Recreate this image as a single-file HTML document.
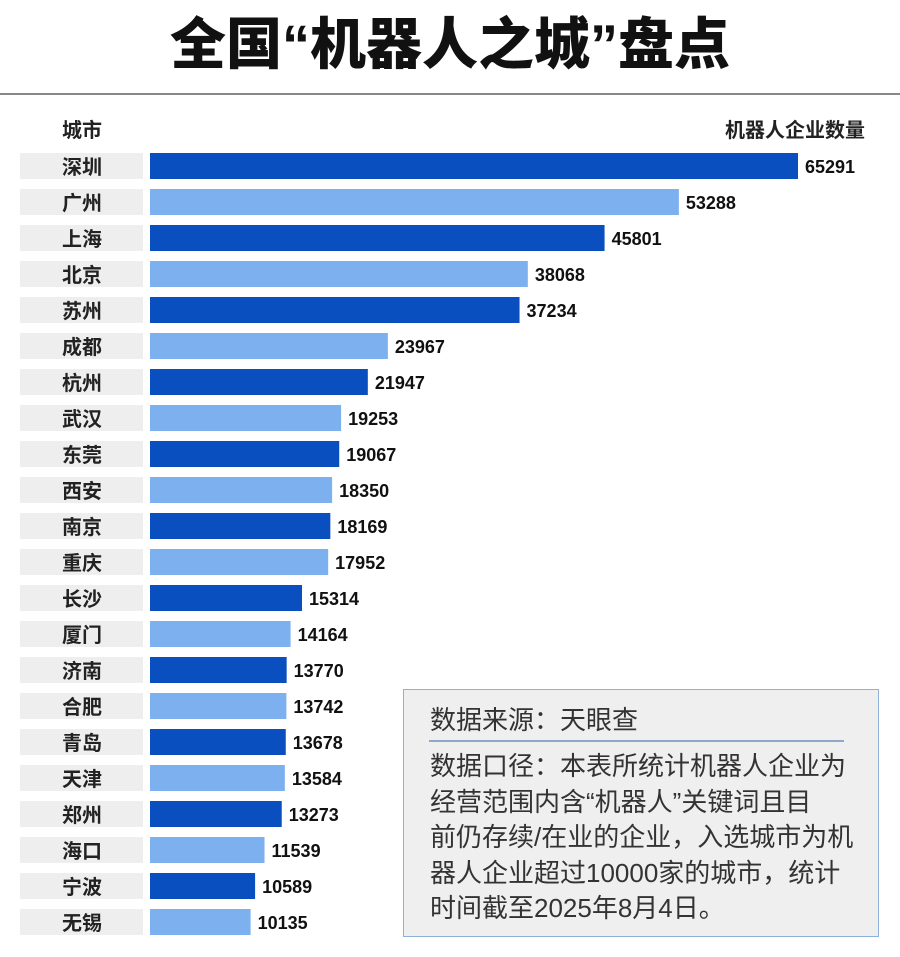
<!DOCTYPE html>
<html><head><meta charset="utf-8"><style>
body{margin:0;width:900px;height:957px;background:#fff;font-family:"Liberation Sans","Noto Sans CJK SC",sans-serif;position:relative;overflow:hidden}
#title{position:absolute;left:0;width:900px;top:12px;text-align:center;font-size:56px;font-weight:900;color:#111;line-height:66px}
#rule{position:absolute;left:0;width:900px;top:93px;height:2px;background:#888}
.hdr{position:absolute;top:114px;font-size:20px;color:#222;font-weight:bold}
#note{position:absolute;left:403px;top:689px;width:474px;height:246px;border:1.5px solid #8fb0d8;background:#efefef;color:#333}
#note .src{position:absolute;left:26px;top:14px;font-size:26px;line-height:32px;white-space:nowrap}
#note .div{position:absolute;left:25px;top:50px;width:415px;height:1.5px;background:#8fa8c8}
#note .body{position:absolute;left:26px;top:59px;font-size:26px;line-height:35.5px;white-space:nowrap}
</style></head><body>
<div id="title">全国“机器人之城”盘点</div>
<div id="rule"></div>
<div class="hdr" style="left:62px">城市</div>
<div class="hdr" style="right:35px">机器人企业数量</div>
<svg id="chart" width="900" height="957" style="position:absolute;left:0;top:0"></svg>
<div id="note">
<div class="src">数据来源：天眼查</div>
<div class="div"></div>
<div class="body">数据口径：本表所统计机器人企业为<br>经营范围内含“机器人”关键词且目<br>前仍存续/在业的企业，入选城市为机<br>器人企业超过10000家的城市，统计<br>时间截至2025年8月4日。</div>
</div>
<script>
const cities=["深圳","广州","上海","北京","苏州","成都","杭州","武汉","东莞","西安","南京","重庆","长沙","厦门","济南","合肥","青岛","天津","郑州","海口","宁波","无锡"];
const values=[65291,53288,45801,38068,37234,23967,21947,19253,19067,18350,18169,17952,15314,14164,13770,13742,13678,13584,13273,11539,10589,10135];
const svg=document.getElementById('chart');
const NS='http://www.w3.org/2000/svg';
const x0=150, pxPer=648/65291;
function xs(v){return v*pxPer;}
function ys(i){return 153+i*36;}
cities.forEach((c,i)=>{
  const y=ys(i);
  const bg=document.createElementNS(NS,'rect');
  
  
  bg.setAttribute('x',20);bg.setAttribute('y',y);bg.setAttribute('width',123);bg.setAttribute('height',26);bg.setAttribute('fill','#eeeeee');
  svg.appendChild(bg);
  const t=document.createElementNS(NS,'text');
  
  
  t.setAttribute('x',62);t.setAttribute('y',y+21);t.setAttribute('font-size','20');t.setAttribute('font-weight','bold');t.setAttribute('fill','#222');
  t.textContent=c;svg.appendChild(t);
  const b=document.createElementNS(NS,'rect');
  
  
  b.setAttribute('x',x0);b.setAttribute('y',y);b.setAttribute('width',xs(values[i]));b.setAttribute('height',26);
  b.setAttribute('fill',i%2===0?'#0a4fbf':'#7db0ef');
  svg.appendChild(b);
  const v=document.createElementNS(NS,'text');
  
  
  v.setAttribute('x',x0+xs(values[i])+7);v.setAttribute('y',y+20);v.setAttribute('font-size','18');v.setAttribute('font-weight','bold');v.setAttribute('fill','#111');
  v.textContent=values[i];svg.appendChild(v);
});
</script>
</body></html>
